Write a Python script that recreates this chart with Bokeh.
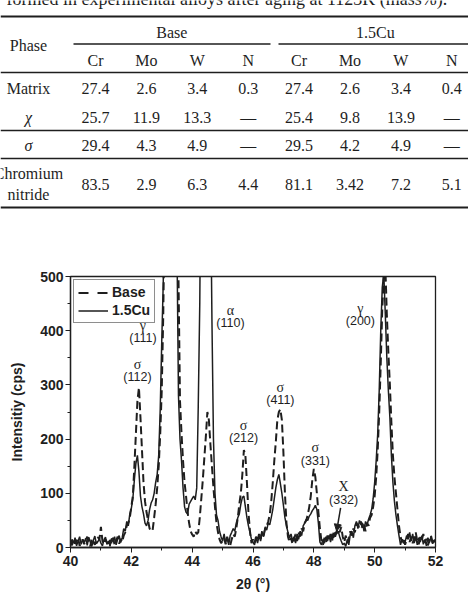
from bokeh.plotting import figure
from bokeh.models import (Range1d, SingleIntervalTicker, Legend, LegendItem,
                          Arrow, NormalHead)
from bokeh.layouts import column
from bokeh.embed import file_html
from bokeh.resources import INLINE
from bokeh.core.properties import value

# ---------------- table: phase compositions ----------------
caption = "formed in experimental alloys after aging at 1123K (mass%)."
phases = ["Matrix", "χ", "σ", ["Chromium", "nitride"]]
alloys = ["Base", "1.5Cu"]
elements = ["Cr", "Mo", "W", "N"]
base_comp = [["27.4", "2.6", "3.4", "0.3"],
             ["25.7", "11.9", "13.3", "—"],
             ["29.4", "4.3", "4.9", "—"],
             ["83.5", "2.9", "6.3", "4.4"]]
cu_comp = [["27.4", "2.6", "3.4", "0.4"],
           ["25.4", "9.8", "13.9", "—"],
           ["29.5", "4.2", "4.9", "—"],
           ["81.1", "3.42", "7.2", "5.1"]]

# ---------------- XRD scans (step 0.05 deg, 40-52 deg) ----------------
scan_start = 40.0
scan_step = 0.05
base_counts = [
    10, 4, 16, 7, 12, 18, 3, 9, 15, 6, 13, 20, 8, 2, 17, 11, 5, 14, 19, 15,            # 40
    38, 12, 6, 15, 9, 3, 14, 8, 18, 5, 12, 20, 7, 16, 10, 22, 28, 40, 45, 55,          # 41
    75, 95, 150, 210, 270, 295, 240, 180, 120, 85, 65, 50, 35, 30, 32, 55, 80, 110, 150, 210,  # 42
    290, 430, 650, 1100, 1600, 2000, 2100, 1800, 1400, 1000, 700, 500, 270, 210, 160, 120, 94, 65, 45, 30,  # 43
    24, 20, 30, 25, 28, 55, 90, 125, 165, 205, 250, 235, 190, 150, 110, 75, 45, 28, 15, 8,  # 44
    12, 18, 6, 20, 10, 4, 15, 25, 20, 35, 55, 80, 100, 135, 180, 170, 120, 65, 30, 8,  # 45
    15, 8, 20, 12, 25, 15, 30, 22, 35, 40, 48, 60, 85, 120, 160, 195, 235, 250, 255, 235,  # 46
    175, 100, 45, 20, 10, 18, 6, 15, 25, 12, 28, 20, 35, 30, 45, 50, 60, 75, 95, 125,  # 47
    145, 130, 100, 65, 35, 12, 5, 18, 10, 22, 15, 25, 12, 28, 20, 30, 35, 28, 38, 20,  # 48
    10, 22, 8, 18, 30, 22, 35, 28, 45, 40, 38, 48, 35, 42, 30, 45, 40, 55, 60, 75,     # 49
    95, 130, 180, 250, 340, 440, 500, 520, 430, 360, 300, 230, 170, 130, 100, 70, 40, 20, 10, 18,  # 50
    5, 15, 25, 10, 20, 8, 18, 28, 12, 6, 20, 14, 25, 9, 16, 4, 12, 22, 10, 5, 15,      # 51-52
]
cu_counts = [
    5, 15, 8, 18, 3, 12, 20, 6, 14, 9, 17, 4, 19, 10, 2, 13, 21, 7, 11, 16,            # 40
    8, 3, 14, 19, 6, 12, 2, 17, 10, 20, 5, 15, 22, 9, 18, 35, 30, 48, 40, 62,          # 41
    72, 90, 125, 155, 170, 140, 95, 75, 62, 45, 40, 50, 70, 82, 88, 100, 120, 135, 170, 255,  # 42
    380, 490, 800, 1300, 1800, 2100, 2000, 1600, 1100, 800, 560, 280, 200, 160, 110, 75, 65, 62, 80, 85,  # 43
    90, 95, 88, 110, 260, 450, 800, 1500, 2000, 2200, 1900, 1200, 700, 420, 200, 100, 60, 50, 30, 20,  # 44
    12, 25, 8, 18, 5, 22, 28, 35, 30, 45, 55, 62, 80, 92, 95, 75, 55, 40, 28, 15,      # 45
    10, 5, 18, 8, 22, 12, 28, 20, 38, 32, 45, 42, 55, 70, 90, 110, 125, 135, 118, 100,  # 46
    78, 55, 40, 28, 18, 25, 12, 20, 8, 25, 15, 30, 22, 40, 45, 52, 50, 58, 62, 68,     # 47
    72, 78, 70, 45, 10, 5, 15, 8, 20, 12, 22, 10, 25, 18, 28, 25, 30, 20, 12, 5,       # 48
    8, 2, 15, 5, 25, 30, 18, 40, 48, 35, 50, 42, 45, 30, 48, 42, 52, 60, 70, 90,       # 49
    120, 160, 210, 290, 400, 480, 505, 430, 350, 290, 240, 170, 120, 85, 60, 40, 22, 5, 15, 8,  # 50
    10, 22, 15, 28, 12, 25, 8, 20, 5, 18, 10, 22, 6, 15, 3, 18, 9, 20, 7, 14, 10,      # 51-52
]
two_theta = [round(scan_start + i * scan_step, 2) for i in range(len(base_counts))]

# peak identifications
peak_phase = ["γ", "σ", "α", "σ", "σ", "σ", "X", "γ"]
peak_hkl = ["(111)", "(112)", "(110)", "(212)", "(411)", "(331)", "(332)", "(200)"]
peak_label_x = [42.38, 42.20, 45.26, 45.69, 46.90, 48.05, 48.98, 49.53]
peak_label_y = [386, 314, 414, 202, 272, 160, 88, 417]

INK = "#1e1e1e"
SERIF = value("Liberation Serif")
SANS = value("Liberation Sans")
NAN = float("nan")

# ---------------- table figure ----------------
TW, TH = 468, 245
t = figure(width=TW, height=TH, x_range=Range1d(0, TW), y_range=Range1d(TH, 0),
           output_backend="svg", toolbar_location=None, min_border=0)
t.frame_align = False
t.axis.visible = False
t.grid.visible = False
t.outline_line_color = None

# caption runs on from the page above, so only its lower part shows
t.text(x=[6], y=[-1.5], text=[caption], text_font=SERIF, text_font_size="18px",
       text_color=INK, text_baseline="alphabetic", text_align="left")

col_x = [95 + 50.9 * i for i in range(8)]
phase_x = 28

# rules
t.segment(x0=[0, 73, 278, 0, 0, 0, 0], x1=[TW, 270, TW, TW, TW, TW, TW],
          y0=[16, 43.5, 43.5, 72, 130, 158, 207], y1=[16, 43.5, 43.5, 72, 130, 158, 207],
          line_color=INK, line_width=[2, 1.6, 1.6, 1.6, 1.4, 1.4, 2])

def cell(x, y, s, style="normal"):
    t.text(x=[x], y=[y], text=[s], text_font=SERIF, text_font_size="16px",
           text_font_style=style, text_color=INK, text_align="center",
           text_baseline="middle")

cell(phase_x, 45, "Phase")
cell((col_x[0] + col_x[3]) / 2, 32, alloys[0])
cell((col_x[4] + col_x[7]) / 2, 32, alloys[1])
for i, el in enumerate(elements + elements):
    cell(col_x[i], 60, el)

row_y = [88, 117, 145, 184]
for r, ph in enumerate(phases):
    if isinstance(ph, list):
        cell(phase_x, row_y[r] - 11, ph[0])
        cell(phase_x, row_y[r] + 10, ph[1])
    else:
        cell(phase_x, row_y[r], ph, "italic" if len(ph) == 1 else "normal")
    for c, v in enumerate(base_comp[r] + cu_comp[r]):
        cell(col_x[c], row_y[r], v)

# ---------------- XRD figure ----------------
p = figure(width=468, height=594 - TH, x_range=Range1d(40, 52), y_range=Range1d(0, 500),
           output_backend="svg", toolbar_location=None,
           min_border_left=70, min_border_right=33, min_border_top=31, min_border_bottom=46)
p.frame_align = False
p.grid.visible = False
p.outline_line_color = INK
p.outline_line_width = 1.3

p.xaxis.ticker = SingleIntervalTicker(interval=2, num_minor_ticks=2)
p.yaxis.ticker = SingleIntervalTicker(interval=100, num_minor_ticks=2)
for ax in (p.xaxis[0], p.yaxis[0]):
    ax.major_tick_in = 0
    ax.major_tick_out = 5
    ax.minor_tick_in = 0
    ax.minor_tick_out = 3
    ax.axis_line_color = INK
    ax.axis_line_width = 1.3
    ax.major_tick_line_color = INK
    ax.minor_tick_line_color = INK
    ax.major_label_text_font = "Liberation Sans"
    ax.major_label_text_font_style = "bold"
    ax.major_label_text_font_size = "14px"
    ax.major_label_text_color = INK
    ax.axis_label_text_font = "Liberation Sans"
    ax.axis_label_text_font_style = "bold"
    ax.axis_label_text_font_size = "14px"
    ax.axis_label_text_color = INK
p.xaxis.axis_label = "2θ (°)"
p.yaxis.axis_label = "Intensitiy (cps)"
p.xaxis.major_label_standoff = 3
p.xaxis.axis_label_standoff = 7
p.yaxis.major_label_standoff = 2
p.yaxis.axis_label_standoff = 12

r_base = p.line(two_theta, base_counts, line_color=INK, line_width=2, line_dash="8 4")
r_cu = p.line(two_theta, cu_counts, line_color=INK, line_width=1.5)

# legend keys use a longer dash so that two dashes show in the key
key_base = p.line([NAN, NAN], [NAN, NAN], line_color=INK, line_width=2, line_dash="10 9")
key_cu = p.line([NAN, NAN], [NAN, NAN], line_color=INK, line_width=1.5)

legend = Legend(items=[LegendItem(label="Base", renderers=[key_base]),
                       LegendItem(label="1.5Cu", renderers=[key_cu])],
                location="top_left", margin=3, padding=4, spacing=2,
                glyph_width=30, glyph_height=15, label_height=15, label_standoff=4,
                label_text_font="Liberation Sans", label_text_font_style="bold",
                label_text_font_size="14px", label_text_color=INK,
                border_line_color=INK, border_line_width=1.3)
p.add_layout(legend)

p.text(x=peak_label_x, y=peak_label_y, text=peak_hkl, text_font=SANS,
       text_font_size="12.5px", text_color=INK, text_align="center", text_baseline="middle")
p.text(x=peak_label_x, y=peak_label_y, text=peak_phase, text_font=SERIF,
       text_font_size="14px", text_color=INK, text_align="center", text_baseline="middle",
       y_offset=-13)

p.add_layout(Arrow(end=NormalHead(size=7, fill_color=INK, line_color=INK),
                   x_start=48.88, y_start=73, x_end=48.75, y_end=30,
                   line_color=INK, line_width=1.5))

layout = column(t, p, spacing=0)
open("out.html", "w").write(file_html(layout, INLINE))
